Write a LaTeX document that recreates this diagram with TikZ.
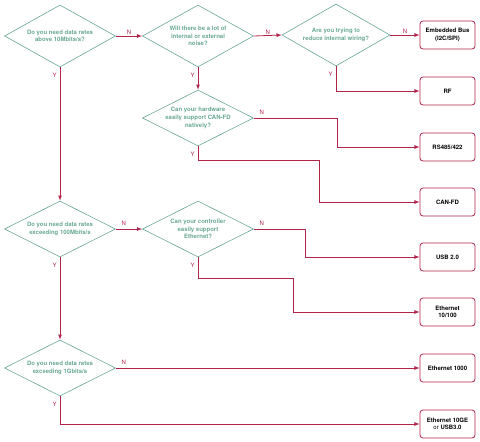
\documentclass[tikz,border=0pt]{standalone}
\usepackage{fontspec}
\setmainfont{TeX Gyre Heros}
\usetikzlibrary{shapes.geometric}
\definecolor{qgreen}{RGB}{104,168,146}
\definecolor{qred}{RGB}{178,36,74}
\newcommand{\qtext}{\fontsize{6}{7.6}\selectfont\bfseries}

\begin{document}
\begin{tikzpicture}
                \tikzset{x=1pt, y=-1pt}
                \tikzstyle{ask}=[diamond, aspect=2, draw=qgreen, line width=0.6pt, text=qgreen, font=\qtext,
                                 align=center, inner xsep=-8pt, inner ysep=0pt, minimum width=111pt, minimum height=56pt]
                \tikzstyle{tall}=[ask, minimum height=62pt]
                \tikzstyle{pick}=[rectangle, rounded corners=3pt, draw=qred, thick, font=\qtext,
                                  align=center, minimum width=55pt, minimum height=28pt, inner sep=1pt]
                \tikzstyle{wire}=[->, >=latex, qred, thick]
                \tikzstyle{ans}=[font=\fontsize{6}{7}\selectfont, text=qred, inner sep=1pt]
                \tikzstyle{no}=[ans, at start, anchor=south west, xshift=4.5pt, yshift=2pt]
                \tikzstyle{yes}=[ans, at start, anchor=north east, xshift=-2pt, yshift=-4pt]

                \useasboundingbox (0,0) rectangle (480,442);

                \draw (60, 36)      node[tall]  (d1)    {Do you need data rates\\above 10Mbits/s?};
                \draw (198, 36)     node[tall]  (d2)    {Will there be a lot of\\internal or external\\noise?};
                \draw (336, 35)     node[tall, minimum width=108pt] (d3) {Are you trying to\\reduce internal wiring?};
                \draw (198, 118)    node[ask]   (d4)    {Can your hardware\\easily support CAN-FD\\natively?};
                \draw (60, 229)     node[ask]   (d5)    {Do you need data rates\\exceeding 100Mbits/s};
                \draw (198, 229)    node[ask]   (d6)    {Can your controller\\easily support\\Ethernet?};
                \draw (60, 368)     node[ask]   (d7)    {Do you need data rates\\exceeding 1Gbits/s};

                \draw (447.5, 35)   node[pick]  (bus)   {Embedded Bus\\(I2C/SPI)};
                \draw (447.5, 91)   node[pick]  (rf)    {RF};
                \draw (447.5, 147)  node[pick]  (rs)    {RS485/422};
                \draw (447.5, 202)  node[pick]  (can)   {CAN-FD};
                \draw (447.5, 257)  node[pick]  (usb)   {USB 2.0};
                \draw (447.5, 312)  node[pick]  (eth)   {Ethernet\\10/100};
                \draw (447.5, 368)  node[pick]  (gig)   {Ethernet 1000};
                \draw (447.5, 424)  node[pick]  (teng)  {Ethernet 10GE\\{\mdseries or} USB3.0};

                \coordinate (k1) at (337, 118);
                \coordinate (k2) at (319, 160);
                \coordinate (k3) at (305, 229);
                \coordinate (k4) at (293, 278);

                % top row
                \draw [wire]        (d1.east) -- node[ans, above] {N} (d2.west);
                \draw [wire]        (d2.east) -- node[ans, above] {N} (d3.west);
                \draw [wire]        (d3.east) -- node[ans, above] {N} (bus.west);
                \draw [wire]        (d3.south) |- node[yes] {Y} (rf.west);
                \draw [wire]        (d2.south) -- node[yes] {Y} (d4.north);

                % CAN-FD question
                \draw [wire]        (d4.east) -- node[no] {N} (k1) |- (rs.west);
                \draw [wire]        (d4.south) |- node[yes] {Y} (k2) |- (can.west);

                % 100Mbit row
                \draw [wire]        (d1.south) -- node[yes] {Y} (d5.north);
                \draw [wire]        (d5.east) -- node[no] {N} (d6.west);
                \draw [wire]        (d6.east) -- node[no] {N} (k3) |- (usb.west);
                \draw [wire]        (d6.south) |- node[yes] {Y} (k4) |- (eth.west);

                % 1Gbit row
                \draw [wire]        (d5.south) -- node[yes] {Y} (d7.north);
                \draw [wire]        (d7.east) -- node[no] {N} (gig.west);
                \draw [wire]        (d7.south) |- node[yes] {Y} (teng.west);
            \end{tikzpicture}
\end{document}
